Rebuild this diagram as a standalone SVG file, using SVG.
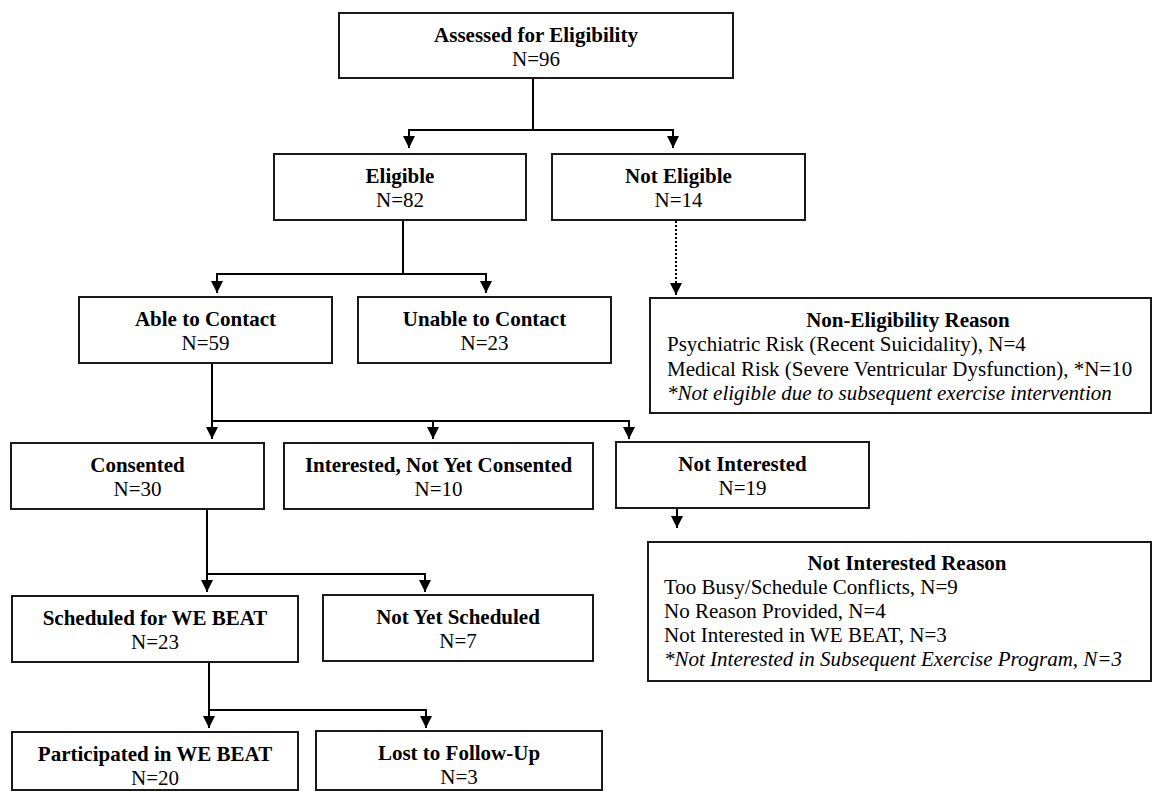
<svg xmlns="http://www.w3.org/2000/svg" width="1154" height="792" viewBox="0 0 1154 792">
<style>
.box{fill:#fff;stroke:#1a1a1a;stroke-width:2}
.t{font-family:"Liberation Serif","Times New Roman",serif;font-size:21px;fill:#000}
.b{font-weight:bold}
.c{text-anchor:middle}
.i{font-style:italic}
.con{fill:none;stroke:#000;stroke-width:2}
.dot{fill:none;stroke:#000;stroke-width:2;stroke-dasharray:2 2}
</style>
<defs>
<marker id="ah" viewBox="0 0 12 12" refX="12" refY="6" markerWidth="12" markerHeight="12" markerUnits="userSpaceOnUse" orient="auto">
<path d="M0,0 L12,6 L0,12 z" fill="#000"/>
</marker>
</defs>
<rect width="1154" height="792" fill="#fff"/>
<g id="connectors">
<path class="con" d="M533,78 V130 H409 V148" marker-end="url(#ah)"/>
<path class="con" d="M533,130 H673 V148" marker-end="url(#ah)"/>
<path class="con" d="M403,220 V274 H217 V293" marker-end="url(#ah)"/>
<path class="con" d="M403,274 H486 V293" marker-end="url(#ah)"/>
<path class="dot" d="M676,221 V295" marker-end="url(#ah)"/>
<path class="con" d="M212,363 V421 V439" marker-end="url(#ah)"/>
<path class="con" d="M212,421 H433 V439" marker-end="url(#ah)"/>
<path class="con" d="M433,421 H629 V439" marker-end="url(#ah)"/>
<path class="con" d="M677,508 V528" marker-end="url(#ah)"/>
<path class="con" d="M207,509 V592" marker-end="url(#ah)"/>
<path class="con" d="M207,574 H425 V592" marker-end="url(#ah)"/>
<path class="con" d="M209,662 V728" marker-end="url(#ah)"/>
<path class="con" d="M209,710 H426 V728" marker-end="url(#ah)"/>
</g>
<g id="assessed">
<rect class="box" x="339" y="13" width="394" height="65"/>
<text class="t b c" x="536" y="42">Assessed for Eligibility</text>
<text class="t c" x="536" y="66">N=96</text>
</g>
<g id="eligible">
<rect class="box" x="274" y="154" width="252" height="66"/>
<text class="t b c" x="400" y="183">Eligible</text>
<text class="t c" x="400" y="207">N=82</text>
</g>
<g id="not-eligible">
<rect class="box" x="552" y="154" width="253" height="66"/>
<text class="t b c" x="678.5" y="183">Not Eligible</text>
<text class="t c" x="678.5" y="207">N=14</text>
</g>
<g id="non-eligibility-reason">
<rect class="box" x="650" y="298" width="501" height="115"/>
<text class="t b c" x="908" y="327">Non-Eligibility Reason</text>
<text class="t" x="667" y="351">Psychiatric Risk (Recent Suicidality), N=4</text>
<text class="t" x="667" y="376">Medical Risk (Severe Ventricular Dysfunction), *N=10</text>
<text class="t i" x="667" y="400">*Not eligible due to subsequent exercise intervention</text>
</g>
<g id="able">
<rect class="box" x="79" y="297" width="253" height="66"/>
<text class="t b c" x="205.5" y="326">Able to Contact</text>
<text class="t c" x="205.5" y="350">N=59</text>
</g>
<g id="unable">
<rect class="box" x="358" y="297" width="253" height="66"/>
<text class="t b c" x="484.5" y="326">Unable to Contact</text>
<text class="t c" x="484.5" y="350">N=23</text>
</g>
<g id="consented">
<rect class="box" x="11" y="443" width="253" height="66"/>
<text class="t b c" x="137.5" y="472">Consented</text>
<text class="t c" x="137.5" y="496">N=30</text>
</g>
<g id="interested">
<rect class="box" x="284" y="443" width="309" height="66"/>
<text class="t b c" x="438.5" y="472">Interested, Not Yet Consented</text>
<text class="t c" x="438.5" y="496">N=10</text>
</g>
<g id="not-interested">
<rect class="box" x="616" y="442" width="253" height="66"/>
<text class="t b c" x="742.5" y="471">Not Interested</text>
<text class="t c" x="742.5" y="495">N=19</text>
</g>
<g id="not-interested-reason">
<rect class="box" x="648" y="542" width="503" height="139"/>
<text class="t b c" x="907" y="570">Not Interested Reason</text>
<text class="t" x="664" y="594">Too Busy/Schedule Conflicts, N=9</text>
<text class="t" x="664" y="618">No Reason Provided, N=4</text>
<text class="t" x="664" y="642">Not Interested in WE BEAT, N=3</text>
<text class="t i" x="664" y="666">*Not Interested in Subsequent Exercise Program, N=3</text>
</g>
<g id="scheduled">
<rect class="box" x="12" y="596" width="286" height="66"/>
<text class="t b c" x="155" y="625">Scheduled for WE BEAT</text>
<text class="t c" x="155" y="649">N=23</text>
</g>
<g id="not-yet-scheduled">
<rect class="box" x="323" y="595" width="270" height="66"/>
<text class="t b c" x="458" y="624">Not Yet Scheduled</text>
<text class="t c" x="458" y="648">N=7</text>
</g>
<g id="participated">
<rect class="box" x="12" y="732" width="286" height="58"/>
<text class="t b c" x="155" y="761">Participated in WE BEAT</text>
<text class="t c" x="155" y="785">N=20</text>
</g>
<g id="lost">
<rect class="box" x="316" y="731" width="286" height="59"/>
<text class="t b c" x="459" y="760">Lost to Follow-Up</text>
<text class="t c" x="459" y="784">N=3</text>
</g>
</svg>
